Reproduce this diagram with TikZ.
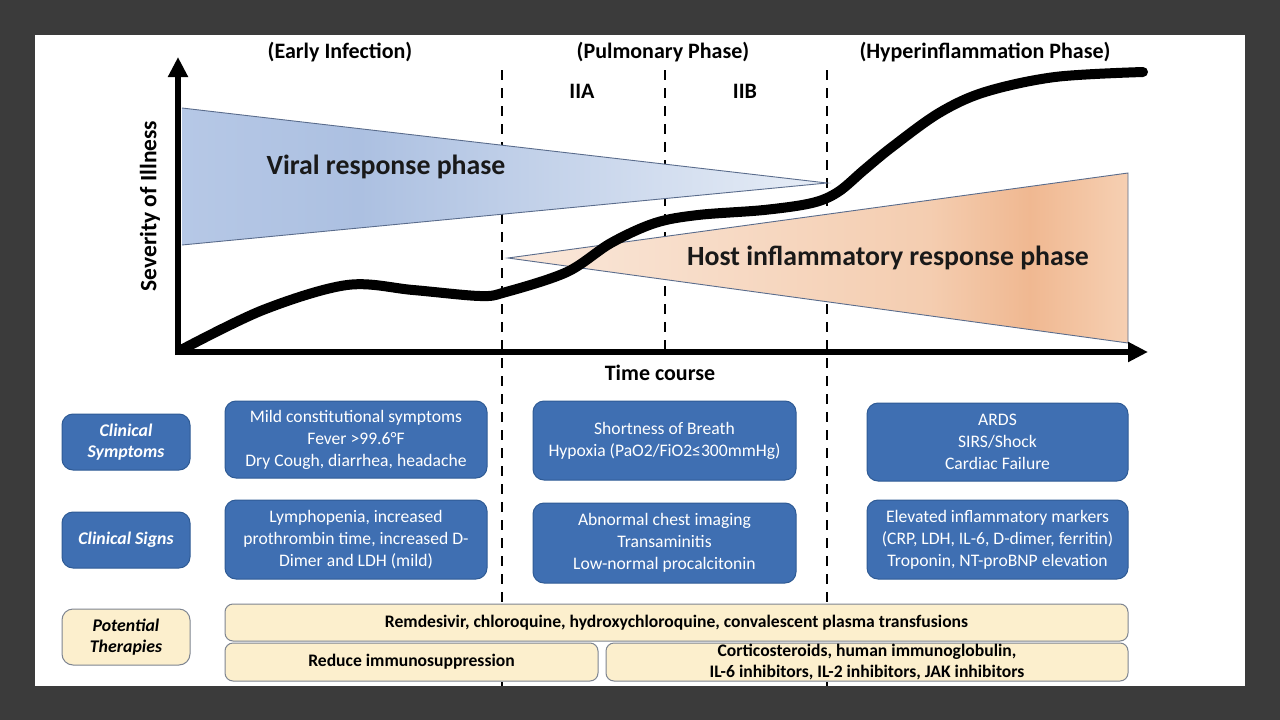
\documentclass[tikz,border=0pt]{standalone}
\usepackage{fontspec}
\setmainfont{Carlito}
\usetikzlibrary{arrows.meta}
\definecolor{bgdark}{HTML}{3B3B3B}
\definecolor{boxblue}{HTML}{3F6FB2}
\definecolor{boxedge}{HTML}{2F5B95}
\definecolor{cream}{HTML}{FCEFCD}
\definecolor{creamedge}{HTML}{7E8591}
\definecolor{vA}{HTML}{B6C8E6}
\definecolor{vB}{HTML}{ACC0E1}
\definecolor{vC}{HTML}{E8EEF7}
\definecolor{hA}{HTML}{FAE8DB}
\definecolor{hB}{HTML}{F4CDB0}
\definecolor{hC}{HTML}{F0B891}
\definecolor{hD}{HTML}{F6D0B3}
\definecolor{triedge}{HTML}{5A6C8C}
\tikzset{
  bluebox/.style={draw=boxedge, fill=boxblue, line width=1pt, rounded corners=11pt,
    text=white, align=center, inner sep=2pt,
    font=\fontsize{17.6}{22}\selectfont},
  labelbox/.style={bluebox, font=\fontsize{17.8}{21}\selectfont\bfseries\itshape,
    minimum width=128pt, minimum height=56pt},
  creambox/.style={draw=creamedge, fill=cream, line width=1pt, rounded corners=8pt,
    text=black, align=center, inner sep=1pt,
    font=\fontsize{17.6}{21}\selectfont\bfseries},
  phasehead/.style={font=\fontsize{22}{24}\selectfont\bfseries, text=black},
  bigtext/.style={font=\fontsize{27.8}{30}\selectfont\bfseries, text=black!90},
  axisline/.style={line width=6pt, -{Triangle[length=20pt,width=19pt]}},
  divider/.style={line width=2.6pt, dash pattern=on 10pt off 8pt},
  trioutline/.style={draw=triedge, line width=0.9pt}
}
\begin{document}
\begin{tikzpicture}[x=1pt,y=-1pt]
\useasboundingbox (0,0) rectangle (1280,720);
\fill[bgdark] (0,0) rectangle (1280,720);
\fill[white] (35,35) rectangle (1245,686);

% phase headers
\node[phasehead] (h1) at (340,52) {(Early Infection)};
\node[phasehead] (h2) at (663,52) {(Pulmonary Phase)};
\node[phasehead] (h3) at (985,52) {(Hyperinflammation Phase)};
\node[phasehead] (iia) at (582,91) {IIA};
\node[phasehead] (iib) at (745,91) {IIB};

% dividers
\coordinate (d1t) at (502,70); \coordinate (d1b) at (502,686);
\coordinate (d2t) at (665,70); \coordinate (d2b) at (665,352);
\coordinate (d3t) at (827,70); \coordinate (d3b) at (827,686);
\draw[divider] (d1t) -- (d1b);
\draw[divider] (d2t) -- (d2b);
\draw[divider] (d3t) -- (d3b);

% viral triangle
\coordinate (vt) at (182,108); \coordinate (vb) at (182,245); \coordinate (va) at (827,183);
\begin{scope}
  \clip (vt) -- (va) -- (vb) -- cycle;
  \shade[left color=vA, right color=vB] (181,100) rectangle (360,260);
  \shade[left color=vB, right color=vC] (359.5,100) rectangle (830,260);
\end{scope}
\draw[trioutline] (vt) -- (va) -- (vb);

% host triangle
\coordinate (ha) at (508,258); \coordinate (ht) at (1128,173); \coordinate (hb) at (1128,343);
\begin{scope}
  \clip (ha) -- (ht) -- (hb) -- cycle;
  \shade[left color=hA, right color=hB] (505,160) rectangle (930,350);
  \shade[left color=hB, right color=hC] (929.5,160) rectangle (1030,350);
  \shade[left color=hC, right color=hD] (1029.5,160) rectangle (1130,350);
\end{scope}
\draw[trioutline] (ha) -- (ht) -- (hb) -- cycle;

% severity curve
\draw[line width=10pt, line cap=round, line join=round] plot[smooth, tension=0.55] coordinates {
 (181,350) (263,310) (347,285) (413,290) (480,296) (506,292) (567,272) (611,243)
 (655,223) (698,215) (764,210) (812,203) (838,192) (864,170) (892,147) (939,113)
 (985,92) (1055,77) (1143,72)};

% axes
\coordinate (ytip) at (178,57);
\coordinate (xtip) at (1148,352);
\coordinate (ystart) at (178,355);
\coordinate (xstart) at (175,352);
\draw[axisline] (ystart) -- (ytip);
\draw[axisline] (xstart) -- (xtip);

\node[bigtext] (vtext) at (386,167) {Viral response phase};
\node[bigtext] (htext) at (888,258) {Host inflammatory response phase};
\node[phasehead, font=\fontsize{23.5}{25}\selectfont\bfseries, rotate=90] (ylab) at (150,206) {Severity of Illness};
\node[phasehead] (xlab) at (660,373) {Time course};

% row labels
\node[labelbox] (lsym) at (126,442) {Clinical\\Symptoms};
\node[labelbox] (lsig) at (126,540) {Clinical Signs};
\node[creambox, font=\fontsize{17.8}{21}\selectfont\bfseries\itshape,
      minimum width=128pt, minimum height=56pt, rounded corners=11pt] (lther) at (126,637) {Potential\\Therapies};

% stage I boxes
\node[bluebox, minimum width=262pt, minimum height=77pt] (s1) at (356,439.5)
 {Mild constitutional symptoms\\Fever >99.6\textdegree F\\Dry Cough, diarrhea, headache};
\node[bluebox, minimum width=262pt, minimum height=79pt] (g1) at (356,539.5)
 {Lymphopenia, increased\\prothrombin time, increased D-\\Dimer and LDH (mild)};
% stage II boxes
\node[bluebox, minimum width=263pt, minimum height=79pt] (s2) at (664.5,440.5)
 {Shortness of Breath\\Hypoxia (PaO2/FiO2≤300mmHg)};
\node[bluebox, minimum width=263pt, minimum height=80pt] (g2) at (664.5,543)
 {Abnormal chest imaging\\Transaminitis\\Low-normal procalcitonin};
% stage III boxes
\node[bluebox, minimum width=261pt, minimum height=78pt] (s3) at (997.5,442)
 {ARDS\\SIRS/Shock\\Cardiac Failure};
\node[bluebox, minimum width=261pt, minimum height=79pt] (g3) at (997.5,539.5)
 {Elevated inflammatory markers\\(CRP, LDH, IL-6, D-dimer, ferritin)\\Troponin, NT-proBNP elevation};

% therapies
\node[creambox, minimum width=903pt, minimum height=37pt] (t1) at (676.5,622.5)
 {Remdesivir, chloroquine, hydroxychloroquine, convalescent plasma transfusions};
\node[creambox, minimum width=373pt, minimum height=38pt] (t2) at (411.5,662)
 {Reduce immunosuppression};
\node[creambox, minimum width=522pt, minimum height=38pt] (t3) at (867,662)
 {Corticosteroids, human immunoglobulin,\\IL-6 inhibitors, IL-2 inhibitors, JAK inhibitors};
\end{tikzpicture}
\end{document}
